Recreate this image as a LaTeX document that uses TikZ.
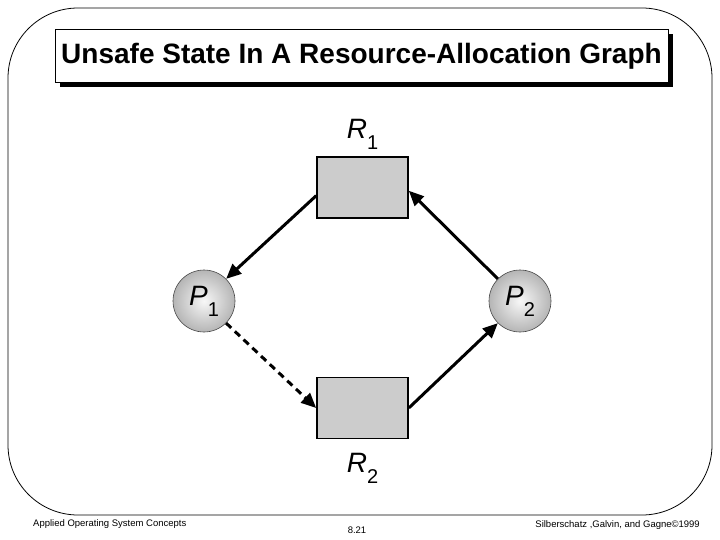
\documentclass[tikz,border=0pt]{standalone}
\usepackage{fontspec}
\setmainfont{Liberation Sans}
\usetikzlibrary{calc,arrows.meta,positioning,shadows}
\tikzset{
  resource/.style={draw=black, line width=1.6pt, fill=gray!40,
    minimum width=91pt, minimum height=61pt, inner sep=0pt},
  process/.style={circle, draw=gray!55!black, line width=0.6pt,
    inner color=gray!6, outer color=gray!58, minimum size=62pt, inner sep=0pt},
  edge/.style={line width=3pt, -{Triangle[length=15pt,width=13pt]}},
  footer/.style={inner sep=0pt, font=\fontsize{9.5}{11}\selectfont},
}
\newcommand{\SubLabel}[2]{{\fontsize{28}{30}\selectfont\itshape #1}\raisebox{-11pt}{\fontsize{20}{22}\selectfont #2}}

\begin{document}
\begin{tikzpicture}[x=1pt,y=-1pt]

	%% page and frame
	\fill[white] (0,0) rectangle (720,540);
	\useasboundingbox (0,0) rectangle (720,540);
	\draw[line width=0.8pt, rounded corners=70pt] (8,8) rectangle (712,515);

	%% title with its shadow
	\node[draw, line width=0.8pt, fill=white, minimum width=613pt, minimum height=53pt,
	      drop shadow={shadow xshift=5pt, shadow yshift=-5pt, fill=black, opacity=1}]
	  (title) at (361.5,56)
	  {\fontsize{28}{32}\selectfont\bfseries Unsafe State In A Resource-Allocation Graph};

	%% resources and processes
	\node[resource] (R1) at (362.5,187.5) {};
	\node[resource] (R2) at (362.5,408) {};
	\node[process] (P1) at (204,301) {\SubLabel{P}{1}};
	\node[process] (P2) at (520,301) {\SubLabel{P}{2}};

	\node[above=6pt of R1, inner sep=0pt] (R1lab) {\SubLabel{R}{1}};
	\node[below=14pt of R2, inner sep=0pt] (R2lab) {\SubLabel{R}{2}};

	%% edges
	\draw[edge] (R1.190) -- (P1.45);   % assignment
	\draw[edge] (P2.135) -- (R1.356);  % request
	\draw[edge] (R2.east) -- (P2.225); % assignment
	\draw[edge, dash pattern=on 7pt off 5pt] (P1.-45) -- (R2.west); % claim

	%% footer
	\node[footer, anchor=west] (book) at (33,524) {Applied Operating System Concepts};
	\node[footer] (page) at (357,530) {8.21};
	\node[footer, anchor=east] (authors) at (700,525) {Silberschatz ,Galvin, and Gagne\textcopyright 1999};
\end{tikzpicture}
\end{document}
